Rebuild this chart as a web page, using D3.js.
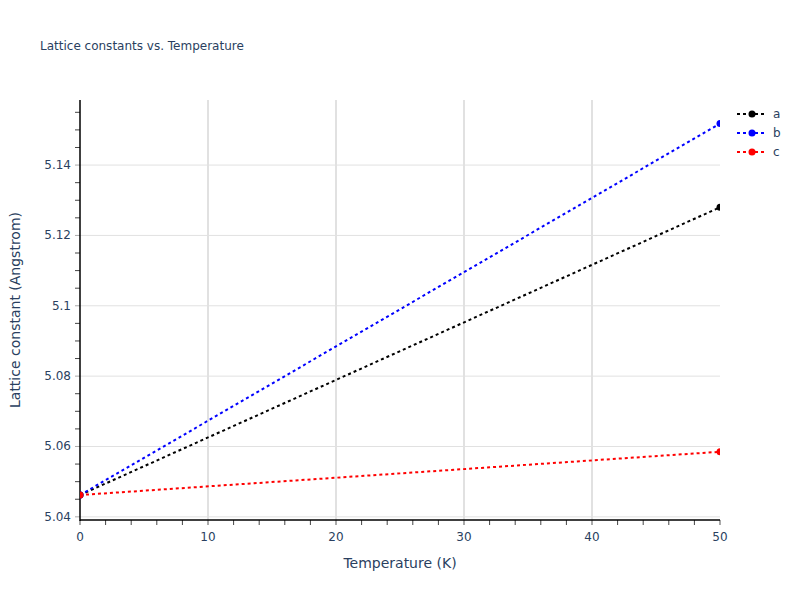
<!DOCTYPE html>
<html><head><meta charset="utf-8">
<script src="https://cdn.jsdelivr.net/npm/d3@7"></script>
<style>body{margin:0;background:#fff;} text{font-family:"DejaVu Sans",Verdana,sans-serif;}</style>
</head><body>
<svg id="c" width="800" height="600"></svg>
<script>
const temperature = [0, 50];
const seriesNames = ["a", "b", "c"];
const seriesColors = ["black", "blue", "red"];
const aValues = [5.0462, 5.1280];
const bValues = [5.0462, 5.1518];
const cValues = [5.0462, 5.0585];
const xTicks = [0, 10, 20, 30, 40, 50];
const yTicks = [5.04, 5.06, 5.08, 5.1, 5.12, 5.14];
const yTickLabels = ["5.04", "5.06", "5.08", "5.1", "5.12", "5.14"];

const allSeries = [aValues, bValues, cValues];
const svg = d3.select("#c");
const L = 80, R = 720, T = 100, B = 520;
const x = d3.scaleLinear().domain([0, 50]).range([L, R]);
const y = d3.scaleLinear().domain([5.0391, 5.1585]).range([B, T]);
const txt = "#2a3f5f";

svg.append("defs").append("clipPath").attr("id","clip").append("rect")
  .attr("x", L).attr("y", T).attr("width", R-L).attr("height", B-T);

// grid
svg.append("g").selectAll("line").data(xTicks.slice(1,-1)).join("line")
  .attr("x1", d=>x(d)).attr("x2", d=>x(d)).attr("y1", T).attr("y2", B)
  .attr("stroke", "#e1e1e1").attr("stroke-width", 2);
svg.append("g").selectAll("line").data(yTicks).join("line")
  .attr("x1", L).attr("x2", R).attr("y1", d=>y(d)).attr("y2", d=>y(d))
  .attr("stroke", "#e1e1e1").attr("stroke-width", 1);

// minor ticks
const xMinor = d3.range(0, 50.001, 2).filter(v => v % 10 !== 0);
svg.append("g").selectAll("line").data(xMinor).join("line")
  .attr("x1", d=>x(d)).attr("x2", d=>x(d)).attr("y1", B).attr("y2", B+5)
  .attr("stroke", "#444").attr("stroke-width", 1);
const yMinor = d3.range(5.04, 5.1585, 0.005).filter(v => Math.abs(Math.round(v*50)-v*50) > 1e-6);
svg.append("g").selectAll("line").data(yMinor).join("line")
  .attr("x1", L-5).attr("x2", L).attr("y1", d=>y(d)).attr("y2", d=>y(d))
  .attr("stroke", "#444").attr("stroke-width", 1);

// major ticks
svg.append("g").selectAll("line").data(xTicks).join("line")
  .attr("x1", d=>x(d)).attr("x2", d=>x(d)).attr("y1", B).attr("y2", B+5)
  .attr("stroke", "#aaa").attr("stroke-width", 2);
svg.append("g").selectAll("line").data(yTicks).join("line")
  .attr("x1", L-5).attr("x2", L).attr("y1", d=>y(d)).attr("y2", d=>y(d))
  .attr("stroke", "#aaa").attr("stroke-width", 1);

// axis lines
svg.append("line").attr("x1", L).attr("x2", L).attr("y1", T).attr("y2", B+1).attr("stroke","black").attr("stroke-width",1.5);
svg.append("line").attr("x1", L).attr("x2", R).attr("y1", B).attr("y2", B).attr("stroke","black").attr("stroke-width",1.5);

// tick labels
svg.append("g").selectAll("text").data(xTicks).join("text")
  .attr("x", d=>x(d)).attr("y", B+21).attr("text-anchor","middle")
  .attr("font-size", 12).attr("fill", txt).text(d=>d);
svg.append("g").selectAll("text").data(yTicks).join("text")
  .attr("x", L-9).attr("y", d=>y(d)+4).attr("text-anchor","end")
  .attr("font-size", 12).attr("fill", txt).text((d,i)=>yTickLabels[i]);

// series
const line = d3.line().x((d,i)=>x(temperature[i])).y(d=>y(d));
const plot = svg.append("g").attr("clip-path","url(#clip)");
allSeries.forEach((vals, k) => {
  plot.append("path").datum(vals).attr("d", line).attr("fill","none")
    .attr("stroke", seriesColors[k]).attr("stroke-width", 2).attr("stroke-dasharray","3,3");
  plot.selectAll(null).data(vals).join("circle")
    .attr("cx", (d,i)=>x(temperature[i])).attr("cy", d=>y(d)).attr("r", 3.5)
    .attr("fill", seriesColors[k]);
});

// legend
seriesNames.forEach((n, k) => {
  const ly = 114 + k*19;
  const g = svg.append("g");
  g.append("line").attr("x1", 737).attr("x2", 767).attr("y1", ly).attr("y2", ly)
    .attr("stroke", seriesColors[k]).attr("stroke-width", 2).attr("stroke-dasharray","3,3");
  g.append("circle").attr("cx", 752).attr("cy", ly).attr("r", 3.5).attr("fill", seriesColors[k]);
  g.append("text").attr("x", 773).attr("y", ly+4).attr("font-size", 12).attr("fill", txt).text(n);
});

// titles
svg.append("text").attr("x", 40).attr("y", 50).attr("font-size", 12).attr("fill", txt).text("Lattice constants vs. Temperature");
svg.append("text").attr("x", 400).attr("y", 568).attr("text-anchor","middle").attr("font-size", 14).attr("fill", txt).text("Temperature (K)");
svg.append("text").attr("transform","translate(20,310) rotate(-90)").attr("text-anchor","middle").attr("font-size", 14).attr("fill", txt).text("Lattice constant (Angstrom)");
</script>
</body></html>
